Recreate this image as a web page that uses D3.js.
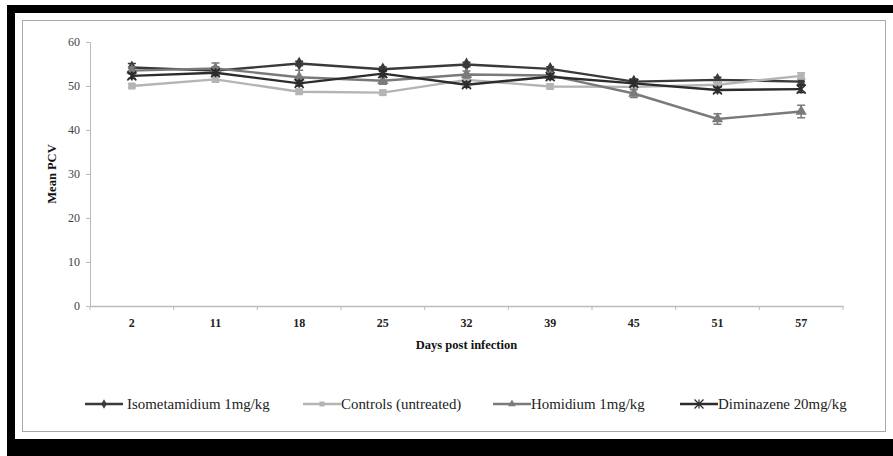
<!DOCTYPE html>
<html lang="en">
<head>
<meta charset="UTF-8">
<title>Mean PCV</title>
<style>
    body { margin: 0; background: #fff; }
    svg text { font-family: "Liberation Serif", "DejaVu Serif", serif !important; }
    .tick text { fill: #444; font-size: 12px; }
    .bold { font-weight: bold; font-size: 12.5px; fill: #111; }
    .leg { font-size: 14.9px; fill: #222; }
</style>
</head>
<body>
<script src="https://d3js.org/d3.v7.min.js"></script>
<script>
    // data
    const days = ['2', '11', '18', '25', '32', '39', '45', '51', '57'];
    const yTicks = [0, 10, 20, 30, 40, 50, 60];

    const isometamidium = [54.2, 53.5, 55.1, 53.8, 54.9, 53.9, 51.0, 51.4, 51.0];
    const isometamidiumErr = [0.9, 0.8, 0.5, 0.5, 0.5, 0.5, 0.6, 0.6, 0.6];
    const controls = [50.0, 51.5, 48.7, 48.5, 51.4, 49.9, 49.8, 50.3, 52.3];
    const controlsErr = [0.4, 0.6, 0.5, 0.5, 0.5, 0.5, 0.5, 0.6, 0.7];
    const homidium = [53.5, 54.0, 52.0, 51.2, 52.6, 52.4, 48.3, 42.5, 44.2];
    const homidiumErr = [0.8, 1.2, 1.6, 0.8, 0.8, 0.6, 0.9, 1.2, 1.4];
    const diminazene = [52.3, 53.0, 50.6, 52.8, 50.3, 52.1, 50.6, 49.1, 49.3];
    const diminazeneErr = [0.6, 0.6, 0.6, 0.6, 0.6, 0.6, 0.6, 0.6, 0.8];

    const series = [
        { name: 'Isometamidium 1mg/kg', vals: isometamidium, err: isometamidiumErr, color: '#3a3a3a', sym: 'diamond' },
        { name: 'Controls (untreated)', vals: controls, err: controlsErr, color: '#b4b4b4', sym: 'square' },
        { name: 'Homidium 1mg/kg', vals: homidium, err: homidiumErr, color: '#7a7a7a', sym: 'triangle' },
        { name: 'Diminazene 20mg/kg', vals: diminazene, err: diminazeneErr, color: '#2c2c2c', sym: 'star' },
    ];

    const W = 893, H = 456;
    const FONT = '"Liberation Serif", "DejaVu Serif", serif';
    let s = d3.select('body').append('svg')
        .attr('width', W)
        .attr('height', H)
        .attr('font-family', FONT);

    // outer black frame (top, left, bottom)
    s.append('rect').attr('x', 7).attr('y', 5).attr('width', W - 7).attr('height', 8).attr('fill', '#000');
    s.append('rect').attr('x', 7).attr('y', 5).attr('width', 8).attr('height', H - 5).attr('fill', '#000');
    s.append('rect').attr('x', 7).attr('y', 439).attr('width', W - 7).attr('height', H - 439).attr('fill', '#000');

    // chart area border
    s.append('rect').attr('x', 22.5).attr('y', 20.5).attr('width', 863).attr('height', 411)
        .attr('fill', '#fff').attr('stroke', '#a8a8a8').attr('stroke-width', 1);

    let m = { l: 90, r: 843, t: 42, b: 306 };

    let x = d3.scaleBand().domain(days).range([m.l, m.r]);
    let y = d3.scaleLinear().domain([0, 60]).range([m.b, m.t]);

    // y axis
    let ya = s.append('g').attr('transform', `translate(${m.l},0)`)
        .call(d3.axisLeft(y).tickValues(yTicks).tickSize(4).tickPadding(6))
        .attr('font-family', FONT);
    ya.select('.domain').attr('stroke', '#bbb');
    ya.selectAll('.tick line').attr('stroke', '#bbb');

    // x axis
    let xa = s.append('g').attr('transform', `translate(0,${m.b})`)
        .call(d3.axisBottom(x).tickSize(0).tickPadding(12))
        .attr('font-family', FONT);
    xa.select('.domain').attr('stroke', '#bbb').attr('stroke-width', 1.5);
    xa.selectAll('.tick text').attr('font-weight', 'bold').style('fill', '#222');
    let bounds = days.map(d => x(d)).concat([m.r]);
    xa.selectAll('.bnd').data(bounds).enter().append('line')
        .attr('x1', d => d).attr('x2', d => d)
        .attr('y1', 0).attr('y2', 4)
        .attr('stroke', '#bbb');

    // axis titles
    s.append('text').attr('class', 'bold')
        .attr('transform', `translate(56,${(m.t + m.b) / 2}) rotate(-90)`)
        .attr('text-anchor', 'middle')
        .text('Mean PCV');
    s.append('text').attr('class', 'bold')
        .attr('x', (m.l + m.r) / 2).attr('y', 349)
        .attr('text-anchor', 'middle')
        .text('Days post infection');

    function symPath(kind, size) {
        if (kind === 'star') {
            let r = 4.5;
            return `M${-r},${-r}L${r},${r}M${-r},${r}L${r},${-r}M0,${-r}L0,${r}`;
        }
        let t = { diamond: d3.symbolDiamond, square: d3.symbolSquare, triangle: d3.symbolTriangle }[kind];
        return d3.symbol().type(t).size(size)();
    }

    let cx = d => x(d) + x.bandwidth() / 2;
    let line = d3.line().x(d => cx(d.day)).y(d => y(d.v));

    series.forEach(se => {
        let pts = days.map((d, i) => ({ day: d, v: se.vals[i], e: se.err[i] }));
        let g = s.append('g');

        // error bars
        g.selectAll('.eb').data(pts).enter().append('path')
            .attr('d', p => {
                let x0 = cx(p.day), y1 = y(p.v + p.e), y2 = y(p.v - p.e);
                return `M${x0},${y1}L${x0},${y2}M${x0 - 4},${y1}L${x0 + 4},${y1}M${x0 - 4},${y2}L${x0 + 4},${y2}`;
            })
            .attr('stroke', se.color).attr('stroke-width', 1.5).attr('fill', 'none');

        g.append('path').datum(pts)
            .attr('d', line)
            .attr('fill', 'none')
            .attr('stroke', se.color)
            .attr('stroke-width', 2.4);

        g.selectAll('.mk').data(pts).enter().append('path')
            .attr('transform', p => `translate(${cx(p.day)},${y(p.v)})`)
            .attr('d', symPath(se.sym, se.sym === 'square' ? 50 : 55))
            .attr('fill', se.sym === 'star' ? 'none' : se.color)
            .attr('stroke', se.color)
            .attr('stroke-width', se.sym === 'star' ? 1.6 : 0);
    });

    // legend
    const legX = [85, 303, 493, 680];
    const legY = 404;
    series.forEach((se, i) => {
        let g = s.append('g').attr('transform', `translate(${legX[i]},${legY})`);
        g.append('line').attr('x1', 0).attr('x2', 38).attr('y1', 0).attr('y2', 0)
            .attr('stroke', se.color).attr('stroke-width', 2.4);
        g.append('path').attr('transform', 'translate(19,0)')
            .attr('d', symPath(se.sym, 25))
            .attr('fill', se.sym === 'star' ? 'none' : se.color)
            .attr('stroke', se.color)
            .attr('stroke-width', se.sym === 'star' ? 1.2 : 0);
        g.append('text').attr('class', 'leg')
            .attr('x', i === 0 ? 42 : 38).attr('y', 4.5)
            .text(se.name);
    });
</script>
</body>
</html>
